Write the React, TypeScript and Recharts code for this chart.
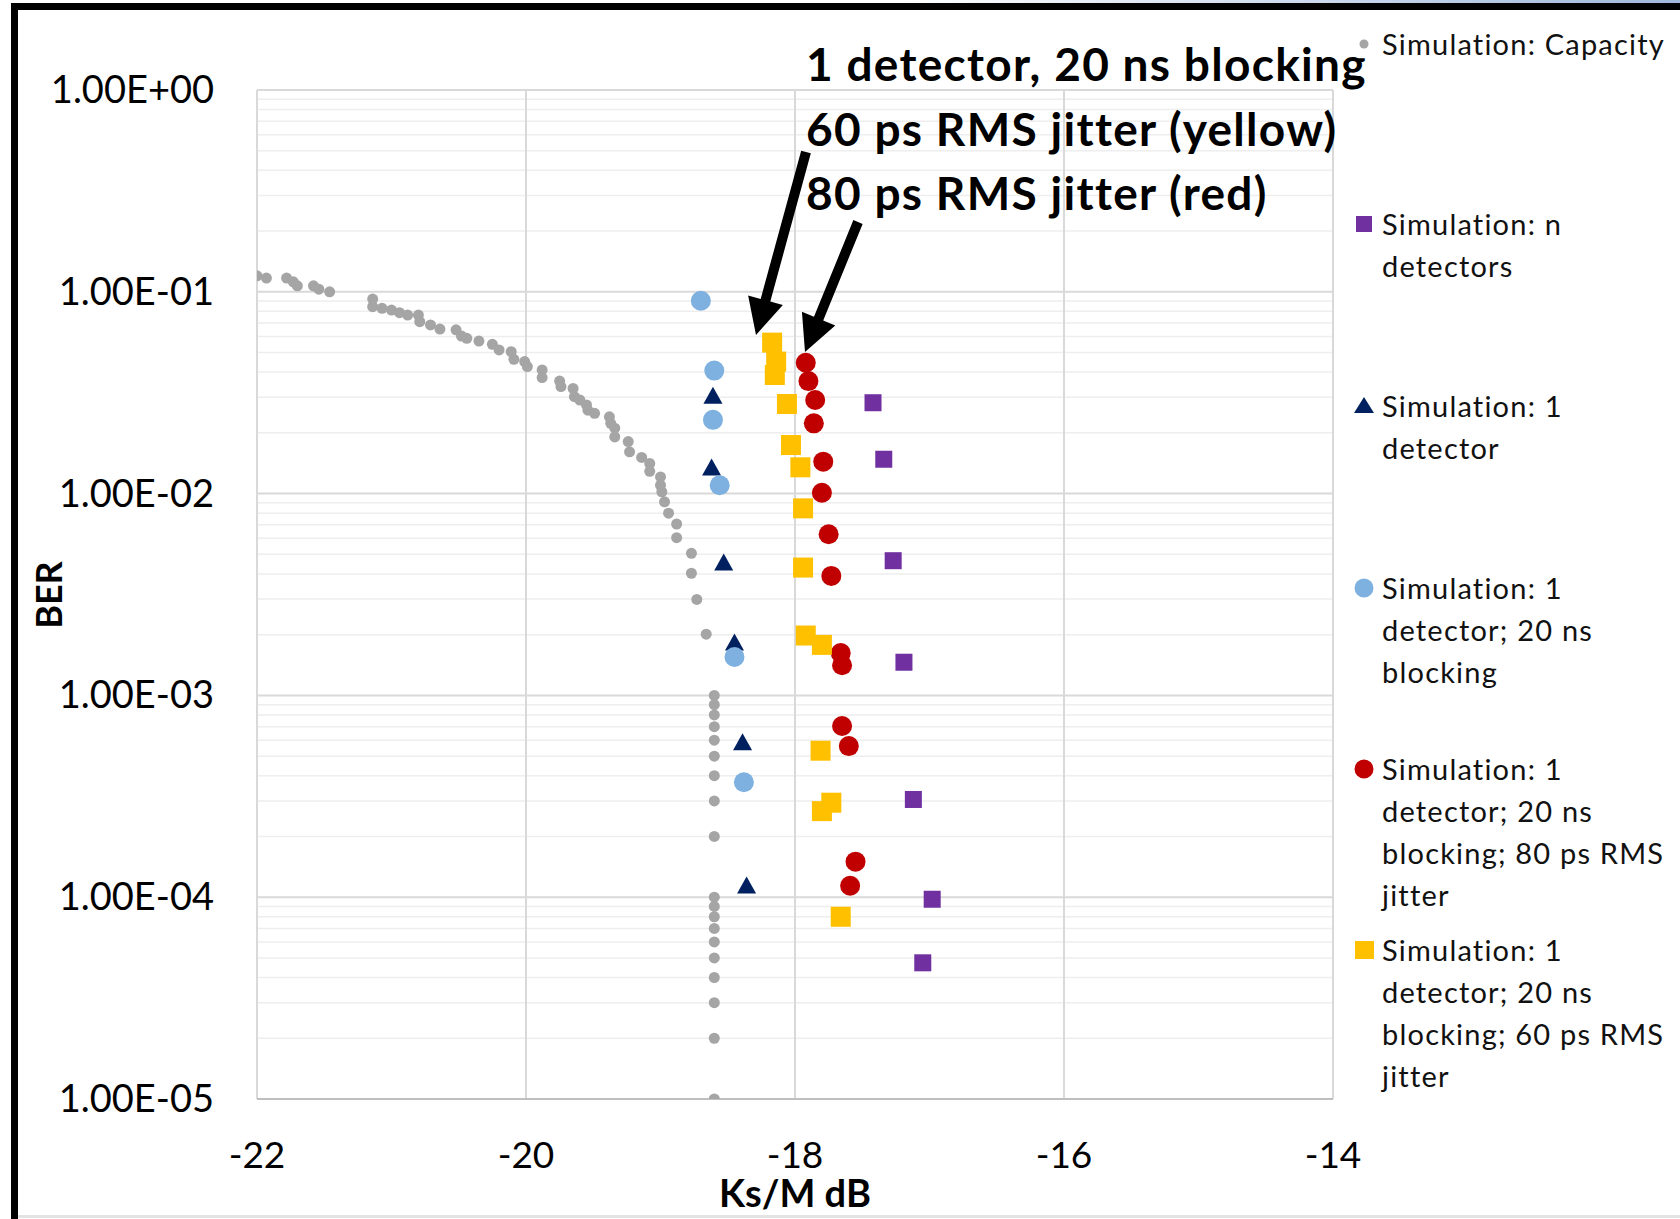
import React from 'react';
import { ScatterChart, Scatter, XAxis, YAxis, CartesianGrid } from 'recharts';

const FONT = 'Lato, "Open Sans", "Noto Sans", sans-serif';

const xTicks = [-22, -20, -18, -16, -14];
const yTicks = [1e-5, 1e-4, 1e-3, 1e-2, 1e-1, 1];
const yTickLabels = ['1.00E-05', '1.00E-04', '1.00E-03', '1.00E-02', '1.00E-01', '1.00E+00'];

// Simulation: Capacity
const capacityKsm = [
    -22.0, -21.93, -21.78, -21.73, -21.7, -21.58, -21.54, -21.46, -21.14, -21.14,
    -21.07, -21.0, -20.94, -20.88, -20.8, -20.79, -20.71, -20.64, -20.52, -20.48,
    -20.44, -20.35, -20.25, -20.2, -20.11, -20.09, -20.01, -19.99, -19.88, -19.88,
    -19.75, -19.74, -19.65, -19.64, -19.6, -19.55, -19.54, -19.49, -19.38, -19.37,
    -19.34, -19.34, -19.24, -19.23, -19.14, -19.08, -19.08, -19.0, -19.0, -18.99,
    -18.97, -18.94, -18.88, -18.88, -18.77, -18.77, -18.73, -18.66,
    -18.6, -18.6, -18.6, -18.6, -18.6, -18.6, -18.6, -18.6, -18.6, -18.6,
    -18.6, -18.6, -18.6, -18.6, -18.6, -18.6, -18.6, -18.6, -18.6,
];
const capacityBer = [
    0.12, 0.117, 0.117, 0.112, 0.107, 0.107, 0.103, 0.1, 0.092, 0.0844,
    0.0828, 0.0812, 0.0788, 0.0767, 0.0767, 0.0711, 0.0685, 0.0654, 0.0648, 0.0604,
    0.0588, 0.057, 0.0549, 0.0515, 0.0505, 0.0463, 0.0451, 0.0426, 0.041, 0.0376,
    0.0361, 0.0339, 0.0332, 0.0302, 0.0291, 0.0275, 0.0259, 0.025, 0.024, 0.0223,
    0.0211, 0.0191, 0.0181, 0.0161, 0.0151, 0.0141, 0.0129, 0.0121, 0.011, 0.0102,
    0.0091, 0.008, 0.00707, 0.00605, 0.00506, 0.00403, 0.00299, 0.00201,
    1e-3, 9e-4, 8e-4, 7e-4, 6e-4, 5e-4, 4e-4, 3e-4, 2e-4, 1e-4,
    9e-5, 8e-5, 7e-5, 6e-5, 5e-5, 4e-5, 3e-5, 2e-5, 1e-5,
];

// Simulation: n detectors
const nDetKsm = [-17.42, -17.34, -17.27, -17.19, -17.12, -16.98, -17.05];
const nDetBer = [0.0282, 0.0148, 0.00465, 0.00146, 3.05e-4, 9.77e-5, 4.73e-5];

// Simulation: 1 detector
const oneDetKsm = [-18.61, -18.62, -18.53, -18.45, -18.39, -18.36];
const oneDetBer = [0.0302, 0.0133, 0.00451, 0.00181, 5.79e-4, 1.13e-4];

// Simulation: 1 detector; 20 ns blocking
const blockKsm = [-18.7, -18.6, -18.61, -18.56, -18.45, -18.38];
const blockBer = [0.0903, 0.0407, 0.0232, 0.011, 0.00155, 3.71e-4];

// Simulation: 1 detector; 20 ns blocking; 80 ps RMS jitter
const jit80Ksm = [
    -17.92, -17.9, -17.85, -17.86, -17.79, -17.8, -17.75, -17.73, -17.66, -17.65,
    -17.65, -17.6, -17.55, -17.59,
];
const jit80Ber = [
    0.0445, 0.0361, 0.0291, 0.0223, 0.0144, 0.0101, 0.00629, 0.00391, 0.00162, 0.00141,
    7.05e-4, 5.61e-4, 1.5e-4, 1.14e-4,
];

// Simulation: 1 detector; 20 ns blocking; 60 ps RMS jitter
const jit60Ksm = [
    -18.17, -18.14, -18.15, -18.06, -18.03, -17.96, -17.94, -17.94, -17.92, -17.8,
    -17.81, -17.73, -17.8, -17.66,
];
const jit60Ber = [
    0.056, 0.0451, 0.0387, 0.0278, 0.0174, 0.0135, 0.00845, 0.0043, 0.00198, 0.00178,
    5.32e-4, 2.94e-4, 2.67e-4, 8.0e-5,
];

const annotationLines = [
    '1 detector, 20 ns blocking',
    '60 ps RMS jitter (yellow)',
    '80 ps RMS jitter (red)',
];

const toPoints = (xs: number[], ys: number[]) => xs.map((x, i) => ({ x, y: ys[i] }));

const minorBer: number[] = [];
[1e-5, 1e-4, 1e-3, 1e-2, 1e-1].forEach((d) => {
    for (let m = 2; m <= 9; m++) minorBer.push(d * m);
});

type Marker = 'dot' | 'circle' | 'square' | 'smallSquare' | 'triangle';

const series: { name: string; data: { x: number; y: number }[]; color: string; marker: Marker }[] = [
    { name: 'Simulation: Capacity', data: toPoints(capacityKsm, capacityBer), color: '#A5A5A5', marker: 'dot' },
    { name: 'Simulation: n detectors', data: toPoints(nDetKsm, nDetBer), color: '#7030A0', marker: 'smallSquare' },
    { name: 'Simulation: 1 detector', data: toPoints(oneDetKsm, oneDetBer), color: '#002060', marker: 'triangle' },
    { name: 'Simulation: 1 detector; 20 ns blocking', data: toPoints(blockKsm, blockBer), color: '#7EB1DF', marker: 'circle' },
    { name: 'Simulation: 1 detector; 20 ns blocking; 80 ps RMS jitter', data: toPoints(jit80Ksm, jit80Ber), color: '#C00000', marker: 'circle' },
    { name: 'Simulation: 1 detector; 20 ns blocking; 60 ps RMS jitter', data: toPoints(jit60Ksm, jit60Ber), color: '#FFC000', marker: 'square' },
];

const drawMarker = (marker: Marker, cx: number, cy: number, color: string) => {
    switch (marker) {
        case 'dot':
            return <circle cx={cx} cy={cy} r={5.5} fill={color} />;
        case 'circle':
            return <circle cx={cx} cy={cy} r={10} fill={color} />;
        case 'square':
            return <rect x={cx - 10} y={cy - 10} width={20} height={20} fill={color} />;
        case 'smallSquare':
            return <rect x={cx - 8.5} y={cy - 8.5} width={17} height={17} fill={color} />;
        case 'triangle':
            return <polygon points={`${cx},${cy - 10} ${cx + 9.5},${cy + 7} ${cx - 9.5},${cy + 7}`} fill={color} />;
    }
};

// legend rows: marker + wrapped text lines
const legendRows: { lines: string[]; top: number }[] = [
    { lines: ['Simulation: Capacity'], top: 23 },
    { lines: ['Simulation: n', 'detectors'], top: 203 },
    { lines: ['Simulation: 1', 'detector'], top: 385 },
    { lines: ['Simulation: 1', 'detector; 20 ns', 'blocking'], top: 567 },
    { lines: ['Simulation: 1', 'detector; 20 ns', 'blocking; 80 ps RMS', 'jitter'], top: 748 },
    { lines: ['Simulation: 1', 'detector; 20 ns', 'blocking; 60 ps RMS', 'jitter'], top: 929 },
];

const arrowPoints = (x1: number, y1: number, x2: number, y2: number) => {
    const shaft = 10, headLen = 36, headW = 36;
    const dx = x2 - x1, dy = y2 - y1;
    const len = Math.hypot(dx, dy);
    const ux = dx / len, uy = dy / len;
    const px = -uy, py = ux;
    const bx = x2 - ux * headLen, by = y2 - uy * headLen;
    const pts = [
        [x1 + (px * shaft) / 2, y1 + (py * shaft) / 2],
        [bx + (px * shaft) / 2, by + (py * shaft) / 2],
        [bx + (px * headW) / 2, by + (py * headW) / 2],
        [x2, y2],
        [bx - (px * headW) / 2, by - (py * headW) / 2],
        [bx - (px * shaft) / 2, by - (py * shaft) / 2],
        [x1 - (px * shaft) / 2, y1 - (py * shaft) / 2],
    ];
    return pts.map((p) => p.join(',')).join(' ');
};

const YTick = (props: any) => {
    const { x, y, payload, index } = props;
    const i = yTicks.indexOf(payload.value);
    return (
        <text x={x - 43} y={y - 2} textAnchor="end" dominantBaseline="central" fontSize={38} fill="#000" fontFamily={FONT}>
            {yTickLabels[i >= 0 ? i : index]}
        </text>
    );
};

const XTick = (props: any) => {
    const { x, y, payload } = props;
    return (
        <text x={x} y={y + 54} textAnchor="middle" dominantBaseline="central" fontSize={37} fill="#000" fontFamily={FONT}>
            {payload.value}
        </text>
    );
};

const App = () => {
    const minorGen = ({ yAxis, offset }: any) => {
        if (yAxis && typeof yAxis.scale === 'function') {
            return minorBer.map((v) => yAxis.scale(v));
        }
        return minorBer.map((v) => offset.top + (offset.height * -Math.log10(v)) / 5);
    };

    return (
        <div style={{ position: 'absolute', left: 0, top: 0, width: 1680, height: 1219, background: '#fff', overflow: 'hidden' }}>
            {/* slide frame */}
            <div style={{ position: 'absolute', left: 900, top: 0, width: 780, height: 4, background: 'linear-gradient(90deg, #ffffff, #9fb8dc)' }} />
            <div style={{ position: 'absolute', left: 11, top: 3, width: 1669, height: 7, background: '#000' }} />
            <div style={{ position: 'absolute', left: 11, top: 3, width: 7, height: 1216, background: '#000' }} />
            <div style={{ position: 'absolute', left: 18, top: 1215, width: 1662, height: 3, background: '#e3e3e3' }} />

            <div style={{ position: 'absolute', left: 0, top: 0 }}>
                <ScatterChart width={1680} height={1219} margin={{ top: 90, right: 347, bottom: 0, left: 0 }}>
                    <CartesianGrid
                        vertical={false}
                        stroke="#EEEEEE"
                        strokeWidth={1.5}
                        horizontalCoordinatesGenerator={minorGen}
                    />
                    <CartesianGrid stroke="#D9D9D9" strokeWidth={2} />
                    <XAxis
                        type="number"
                        dataKey="x"
                        domain={[-22, -14]}
                        ticks={xTicks}
                        height={120}
                        tickSize={0}
                        tickMargin={0}
                        tickLine={false}
                        axisLine={{ stroke: '#BFBFBF', strokeWidth: 2 }}
                        tick={<XTick />}
                        allowDataOverflow
                    />
                    <YAxis
                        type="number"
                        dataKey="y"
                        scale="log"
                        domain={[1e-5, 1]}
                        ticks={yTicks}
                        width={257}
                        tickSize={0}
                        tickMargin={0}
                        tickLine={false}
                        axisLine={false}
                        tick={<YTick />}
                        allowDataOverflow
                    />
                    {series.map((s) => (
                        <Scatter
                            key={s.name}
                            name={s.name}
                            data={s.data}
                            fill={s.color}
                            isAnimationActive={false}
                            shape={(p: any) => drawMarker(s.marker, p.cx, p.cy, s.color)}
                        />
                    ))}
                </ScatterChart>
            </div>

            {/* axis titles */}
            <div
                style={{
                    position: 'absolute', left: 48, top: 595, transform: 'translate(-50%, -50%) rotate(-90deg)',
                    fontFamily: FONT, fontWeight: 700, fontSize: 36, color: '#000', whiteSpace: 'nowrap',
                }}
            >
                BER
            </div>
            <div
                style={{
                    position: 'absolute', left: 795, top: 1192, transform: 'translate(-50%, -50%)',
                    fontFamily: FONT, fontWeight: 700, fontSize: 38, lineHeight: '28px', color: '#000', whiteSpace: 'nowrap',
                }}
            >
                Ks/M dB
            </div>

            {/* annotation */}
            {annotationLines.map((t, i) => (
                <div
                    key={t}
                    style={{
                        position: 'absolute', left: 806, top: 63 + i * 64.5, transform: 'translateY(-50%)',
                        fontFamily: FONT, fontWeight: 700, fontSize: 46, letterSpacing: 1.3, color: '#000', whiteSpace: 'nowrap',
                    }}
                >
                    {t}
                </div>
            ))}
            <svg style={{ position: 'absolute', left: 0, top: 0 }} width={1680} height={1219}>
                <polygon points={arrowPoints(806, 152, 756, 335)} fill="#000" />
                <polygon points={arrowPoints(858, 222, 805, 352)} fill="#000" />
            </svg>

            {/* legend */}
            {legendRows.map((row, i) => {
                const s = series[i];
                return (
                    <div key={s.name} style={{ position: 'absolute', left: 1350, top: row.top, fontFamily: FONT, fontSize: 29, lineHeight: '42px', color: '#111' }}>
                        <svg width={30} height={42} style={{ position: 'absolute', left: 0, top: 0 }}>
                            {s.marker === 'dot' ? (
                                <circle cx={14} cy={21} r={4.5} fill={s.color} />
                            ) : s.marker === 'circle' ? (
                                <circle cx={14} cy={21} r={9.5} fill={s.color} />
                            ) : s.marker === 'triangle' ? (
                                <polygon points="14,12 24,28 4,28" fill={s.color} />
                            ) : s.marker === 'square' ? (
                                <rect x={5} y={12} width={19} height={18} fill={s.color} />
                            ) : (
                                <rect x={6} y={13} width={16} height={16} fill={s.color} />
                            )}
                        </svg>
                        <div style={{ marginLeft: 32, letterSpacing: 1.2, whiteSpace: 'nowrap' }}>
                            {row.lines.map((l) => (
                                <div key={l}>{l}</div>
                            ))}
                        </div>
                    </div>
                );
            })}
        </div>
    );
};

export default App;
